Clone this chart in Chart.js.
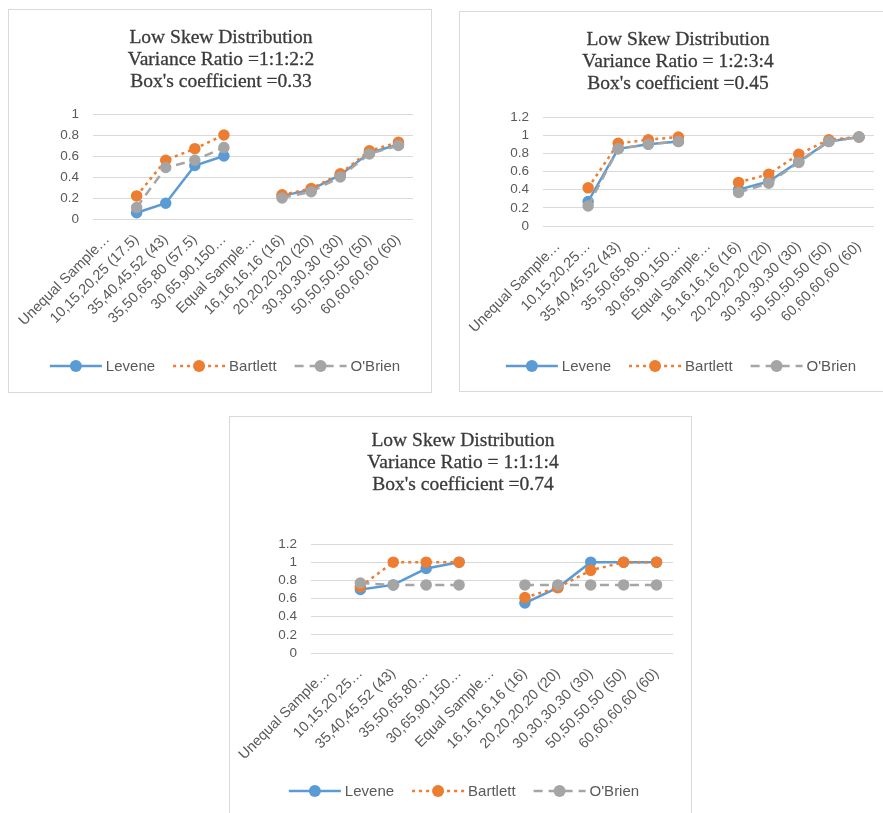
<!DOCTYPE html>
<html>
<head>
<meta charset="utf-8">
<script src="https://cdn.jsdelivr.net/npm/chart.js@4/dist/chart.umd.min.js"></script>
<style>
  html, body { margin: 0; padding: 0; background: #fff; }
  body { width: 883px; height: 813px; position: relative; overflow: hidden; }
  .panel { position: absolute; border: 1px solid #d9d9d9; box-sizing: border-box; background: #fff; }
  .panel canvas { position: absolute; left: 0; top: 0; }
</style>
</head>
<body>
<div class="panel" id="p1" style="left:8px;top:9px;width:424px;height:384px"><canvas id="c1" width="424" height="384"></canvas></div>
<div class="panel" id="p2" style="left:459px;top:11px;width:436px;height:381px"><canvas id="c2" width="436" height="381"></canvas></div>
<div class="panel" id="p3" style="left:229px;top:416px;width:463px;height:410px"><canvas id="c3" width="463" height="410"></canvas></div>
<script>
// sample-size groups on the x axis (long names are cut the way the axis shows them)
const groupsA = ['Unequal Sample…', '10,15,20,25 (17.5)', '35,40,45,52 (43)', '35,50,65,80 (57.5)', '30,65,90,150…',
  'Equal Sample…', '16,16,16,16 (16)', '20,20,20,20 (20)', '30,30,30,30 (30)', '50,50,50,50 (50)', '60,60,60,60 (60)'];
const groupsB = ['Unequal Sample…', '10,15,20,25…', '35,40,45,52 (43)', '35,50,65,80…', '30,65,90,150…',
  'Equal Sample…', '16,16,16,16 (16)', '20,20,20,20 (20)', '30,30,30,30 (30)', '50,50,50,50 (50)', '60,60,60,60 (60)'];

const titles1 = ['Low Skew Distribution', 'Variance Ratio =1:1:2:2', "Box's coefficient =0.33"];
const titles2 = ['Low Skew Distribution', 'Variance Ratio = 1:2:3:4', "Box's coefficient =0.45"];
const titles3 = ['Low Skew Distribution', 'Variance Ratio = 1:1:1:4', "Box's coefficient =0.74"];

// variance ratio 1:1:2:2
const levene1   = [null, 0.06, 0.15, 0.51, 0.60, null, 0.22, 0.28, 0.42, 0.63, 0.71];
const bartlett1 = [null, 0.22, 0.56, 0.67, 0.80, null, 0.23, 0.29, 0.43, 0.65, 0.73];
const obrien1   = [null, 0.11, 0.49, 0.56, 0.68, null, 0.20, 0.26, 0.40, 0.62, 0.70];

// variance ratio 1:2:3:4
const levene2   = [null, 0.27, 0.85, 0.90, 0.93, null, 0.40, 0.49, 0.71, 0.93, 0.98];
const bartlett2 = [null, 0.42, 0.91, 0.95, 0.98, null, 0.48, 0.57, 0.79, 0.95, 0.98];
const obrien2   = [null, 0.22, 0.85, 0.90, 0.93, null, 0.37, 0.47, 0.70, 0.93, 0.98];

// variance ratio 1:1:1:4
const levene3   = [null, 0.70, 0.75, 0.93, 1.00, null, 0.55, 0.72, 1.00, 1.00, 1.00];
const bartlett3 = [null, 0.73, 1.00, 1.00, 1.00, null, 0.61, 0.72, 0.91, 1.00, 1.00];
const obrien3   = [null, 0.77, 0.75, 0.75, 0.75, null, 0.75, 0.75, 0.75, 0.75, 0.75];

const yMax1 = 1, yMax2 = 1.2, yMax3 = 1.2;

const SANS = '"Liberation Sans", Arial, sans-serif';
const SERIF = '"Liberation Serif", "Times New Roman", serif';
const TEXT = '#595959';

const SERIES = [
  { label: 'Levene',   color: '#5B9BD5', dash: [],     order: 3 },
  { label: 'Bartlett', color: '#ED7D31', dash: [3, 4], order: 2 },
  { label: "O'Brien",  color: '#A5A5A5', dash: [9, 6], order: 1 }
];

// three-line serif heading
const headingPlugin = {
  id: 'heading',
  afterDraw(chart, args, opts) {
    const ctx = chart.ctx;
    ctx.save();
    ctx.font = '19.5px ' + SERIF;
    ctx.fillStyle = '#3a3a3a';
    ctx.strokeStyle = '#3a3a3a';
    ctx.lineWidth = 0.3;
    ctx.textAlign = 'center';
    ctx.textBaseline = 'middle';
    opts.lines.forEach((t, i) => {
      ctx.fillText(t, opts.x, opts.y + i * 22);
      ctx.strokeText(t, opts.x, opts.y + i * 22);
    });
    ctx.restore();
  }
};

// Excel-style legend: line sample with a marker in the middle, then the name
const lineLegendPlugin = {
  id: 'lineLegend',
  afterDraw(chart, args, opts) {
    const ctx = chart.ctx;
    const segLen = 52, gap = 4, itemGap = 18;
    ctx.save();
    ctx.font = '15px ' + SANS;
    const items = chart.data.datasets.map(ds => ({ ds, w: segLen + gap + ctx.measureText(ds.label).width }));
    const total = items.reduce((s, it) => s + it.w, 0) + itemGap * (items.length - 1);
    let x = opts.x - total / 2;
    const y = opts.y;
    items.forEach(({ ds, w }) => {
      ctx.strokeStyle = ds.borderColor;
      ctx.lineWidth = ds.borderWidth;
      ctx.setLineDash(ds.borderDash || []);
      ctx.beginPath();
      ctx.moveTo(x, y);
      ctx.lineTo(x + segLen, y);
      ctx.stroke();
      ctx.setLineDash([]);
      ctx.fillStyle = ds.pointBackgroundColor;
      ctx.beginPath();
      ctx.arc(x + segLen / 2, y, 6, 0, Math.PI * 2);
      ctx.fill();
      ctx.fillStyle = TEXT;
      ctx.textAlign = 'left';
      ctx.textBaseline = 'middle';
      ctx.fillText(ds.label, x + segLen + gap, y + 1);
      x += w + itemGap;
    });
    ctx.restore();
  }
};

function makeChart(id, labels, values, yMax, titles, box) {
  const canvas = document.getElementById(id);
  const yAxisW = 50, xAxisH = 130;
  const datasets = SERIES.map((s, i) => ({
    label: s.label,
    data: values[i],
    borderColor: s.color,
    backgroundColor: s.color,
    pointBackgroundColor: s.color,
    pointBorderColor: s.color,
    borderWidth: 2.5,
    borderDash: s.dash,
    pointRadius: 4.5,
    pointHoverRadius: 4.5,
    tension: 0,
    spanGaps: false,
    order: s.order
  }));
  return new Chart(canvas, {
    type: 'line',
    data: { labels, datasets },
    plugins: [headingPlugin, lineLegendPlugin],
    options: {
      responsive: false,
      animation: false,
      devicePixelRatio: 1,
      layout: {
        padding: {
          left: box.left - yAxisW,
          right: canvas.width - box.right,
          top: box.top,
          bottom: canvas.height - box.bottom - xAxisH
        }
      },
      plugins: {
        legend: { display: false },
        title: { display: false },
        tooltip: { enabled: false },
        heading: { lines: titles, x: box.titleX, y: box.titleY },
        lineLegend: { x: box.legendX, y: box.legendY }
      },
      scales: {
        x: {
          offset: true,
          grid: { display: false, drawTicks: false },
          border: { display: false },
          afterFit(scale) {
            // keep the plot box fixed; slanted labels may hang past its left edge
            scale.height = xAxisH;
            scale.paddingLeft = 0;
            scale.paddingRight = 0;
          },
          ticks: {
            autoSkip: false,
            minRotation: 45,
            maxRotation: 45,
            padding: 12,
            color: TEXT,
            font: { family: SANS, size: 14.5 }
          }
        },
        y: {
          min: 0,
          max: yMax,
          afterFit(scale) {
            scale.width = yAxisW;
            scale.paddingTop = 0;
            scale.paddingBottom = 0;
          },
          grid: { color: '#d9d9d9', lineWidth: 1, drawTicks: false },
          border: { display: false },
          ticks: {
            autoSkip: false,
            stepSize: 0.2,
            padding: 14,
            color: TEXT,
            font: { family: SANS, size: 13.5 },
            callback: v => String(+v.toFixed(1))
          }
        }
      }
    }
  });
}

makeChart('c1', groupsA, [levene1, bartlett1, obrien1], yMax1, titles1,
  { left: 84, right: 404, top: 104, bottom: 209, titleX: 212, titleY: 28, legendX: 216, legendY: 356 });
makeChart('c2', groupsB, [levene2, bartlett2, obrien2], yMax2, titles2,
  { left: 83, right: 414, top: 105, bottom: 214, titleX: 218, titleY: 28, legendX: 221, legendY: 354 });
makeChart('c3', groupsB, [levene3, bartlett3, obrien3], yMax3, titles3,
  { left: 81, right: 443, top: 127, bottom: 236, titleX: 233, titleY: 24, legendX: 234, legendY: 374 });
</script>
</body>
</html>
